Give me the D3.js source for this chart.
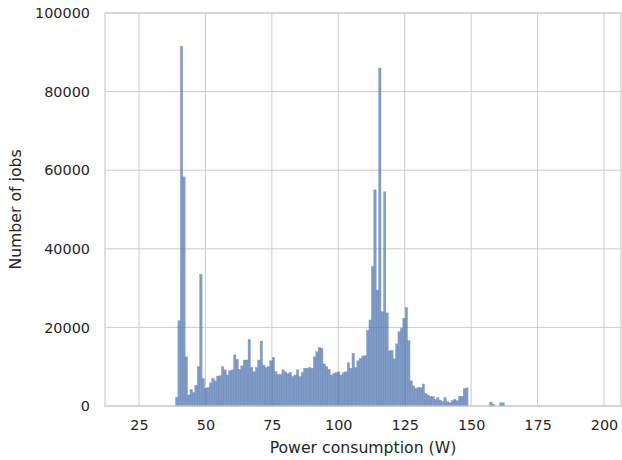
<!DOCTYPE html>
<html>
<head>
<meta charset="utf-8">
<script src="https://cdn.jsdelivr.net/npm/d3@7"></script>
<style>
  html, body { margin: 0; padding: 0; background: #fff; }
  svg { display: block; font-family: "DejaVu Sans", sans-serif; }
</style>
</head>
<body>
<svg id="chart" width="622" height="460"></svg>
<script>
// histogram: equal-width bins of power (W), counts
const binStart = 38.73;
const binWidth = 0.91;
const counts = [
  2200, 21700, 91500, 58300, 12500, 2800, 4200, 3400, 5300, 10000,
  33500, 7000, 4500, 4700, 5900, 7000, 6400, 7600, 7700, 10000,
  9200, 7900, 9000, 9200, 13000, 11900, 9300, 10200, 11700, 11700,
  17000, 9800, 8700, 9800, 11700, 16500, 10400, 9800, 10000, 11500,
  12400, 8700, 8000, 8000, 9200, 8700, 8300, 8600, 7500, 7900,
  9200, 7500, 8500, 9600, 9600, 9800, 9600, 12500, 13800, 14900,
  14700, 10700, 10000, 9300, 7900, 8300, 8500, 8700, 7900, 8500,
  8700, 11000, 9600, 13400, 9800, 11500, 12100, 12700, 12800, 19200,
  21900, 35500, 55000, 29500, 86000, 24000, 54500, 23700, 14000, 14200,
  12000, 15800, 18900, 19800, 22300, 25000, 16600, 6400, 5100, 4500,
  4700, 4700, 5600, 3200, 2800, 2400, 2400, 1700, 2100, 1500,
  1100, 2100, 1100, 850, 1350, 1700, 1350, 2400, 2500, 4400,
  4600, 0, 0, 0, 0, 0, 0, 0, 0, 0,
  1000, 400, 0, 0, 800, 800
];
const xTicks = [25, 50, 75, 100, 125, 150, 175, 200];
const yTicks = [0, 20000, 40000, 60000, 80000, 100000];
const xDomain = [12.2, 206.4];
const yDomain = [0, 100000];

const bins = counts.map((c, i) => ({
  x0: binStart + i * binWidth,
  x1: binStart + (i + 1) * binWidth,
  n: c,
}));

const svg = d3.select('#chart');
const m = { left: 105, right: 1, top: 13, bottom: 54 };
const W = 622, H = 460;

const x = d3.scaleLinear().domain(xDomain).range([m.left, W - m.right]);
const y = d3.scaleLinear().domain(yDomain).range([H - m.bottom, m.top]);

const gridColor = '#cccccc';
const textColor = '#262626';

// grid first (axis below)
const grid = svg.append('g');
grid.selectAll('line.gx').data(xTicks).enter().append('line')
  .attr('x1', d => x(d)).attr('x2', d => x(d))
  .attr('y1', m.top).attr('y2', H - m.bottom)
  .attr('stroke', gridColor).attr('stroke-width', 1);
grid.selectAll('line.gy').data(yTicks).enter().append('line')
  .attr('x1', m.left).attr('x2', W - m.right)
  .attr('y1', d => y(d)).attr('y2', d => y(d))
  .attr('stroke', gridColor).attr('stroke-width', 1);

// bars
svg.append('g')
  .selectAll('rect').data(bins.filter(b => b.n > 0)).enter().append('rect')
  .attr('x', d => x(d.x0))
  .attr('width', d => x(d.x1) - x(d.x0))
  .attr('y', d => y(d.n))
  .attr('height', d => y(0) - y(d.n))
  .attr('fill', '#4c72b0')
  .attr('stroke', '#4c72b0')
  .attr('stroke-width', 0.4)
  .attr('opacity', 0.7);

// frame (spines)
svg.append('rect')
  .attr('x', m.left).attr('y', m.top)
  .attr('width', W - m.right - m.left).attr('height', H - m.bottom - m.top)
  .attr('fill', 'none').attr('stroke', gridColor).attr('stroke-width', 1.2);

// axes, tick marks hidden like seaborn whitegrid
const xAxis = svg.append('g')
  .attr('transform', `translate(0,${H - m.bottom})`)
  .call(d3.axisBottom(x).tickValues(xTicks).tickSize(0).tickPadding(14));
const yAxis = svg.append('g')
  .attr('transform', `translate(${m.left},0)`)
  .call(d3.axisLeft(y).tickValues(yTicks).tickSize(0).tickPadding(15).tickFormat(d3.format('d')));
[xAxis, yAxis].forEach(a => {
  a.select('.domain').remove();
  a.selectAll('text').attr('fill', textColor).attr('font-size', 14.4)
    .attr('font-family', '"DejaVu Sans", sans-serif');
});

svg.append('text')
  .attr('x', x((xDomain[0] + xDomain[1]) / 2)).attr('y', 453)
  .attr('text-anchor', 'middle')
  .attr('fill', textColor).attr('font-size', 15.7)
  .text('Power consumption (W)');

svg.append('text')
  .attr('transform', `translate(21,${(m.top + H - m.bottom) / 2}) rotate(-90)`)
  .attr('text-anchor', 'middle')
  .attr('fill', textColor).attr('font-size', 15.7)
  .text('Number of jobs');
</script>
</body>
</html>
